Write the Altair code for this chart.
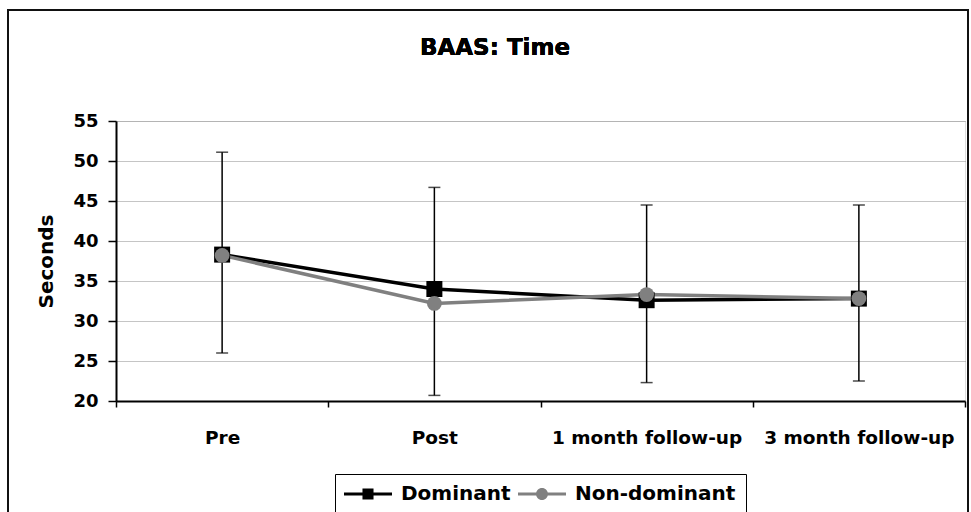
import altair as alt
import pandas as pd

categories = ["Pre", "Post", "1 month follow-up", "3 month follow-up"]
dominant = [38.3, 34.0, 32.6, 32.8]
non_dominant = [38.2, 32.2, 33.3, 32.8]
err_low = [26.0, 20.7, 22.3, 22.5]
err_high = [51.1, 46.7, 44.5, 44.5]
series_names = ["Dominant", "Non-dominant"]
series_colors = ["#000000", "#808080"]
y_ticks = [20, 25, 30, 35, 40, 45, 50, 55]
chart_title = "BAAS: Time"
y_title = "Seconds"

rows = []
for c, d, n in zip(categories, dominant, non_dominant):
    rows.append({"cat": c, "series": "Dominant", "val": d})
    rows.append({"cat": c, "series": "Non-dominant", "val": n})
df = pd.DataFrame(rows)
err = pd.DataFrame({"cat": categories, "lo": err_low, "hi": err_high})

FONT = "DejaVu Sans"

x_axis = alt.Axis(tickBand="extent", labelAngle=0, labelFontSize=18.5,
                  labelFontWeight="bold", labelFont=FONT, labelColor="black",
                  labelPadding=21, tickSize=6, tickColor="black", labelLimit=400,
                  tickWidth=1.5, domainColor="black", domainWidth=2,
                  grid=False, title=None)
y_axis = alt.Axis(values=y_ticks, labelFontSize=18, title=y_title,
                  labelFontWeight="bold", labelFont=FONT, labelColor="black",
                  titleFont=FONT, titleFontSize=20, titleFontWeight="bold",
                  titleColor="black", titlePadding=16, labelPadding=10,
                  tickSize=8, tickColor="black", tickWidth=1.5,
                  domainColor="black", domainWidth=2,
                  grid=True, gridColor="#8a8a8a", gridDash=[1, 1],
                  gridWidth=1)
y_scale = alt.Scale(domain=[20, 55], nice=False, zero=False)
x_scale = alt.Scale(domain=categories, paddingInner=0, paddingOuter=0)


def X():
    return alt.X("cat:N", sort=categories, scale=x_scale, axis=x_axis, title=None)


def Y(field):
    return alt.Y(f"{field}:Q", scale=y_scale, axis=y_axis, title=y_title)


color = alt.Color("series:N", scale=alt.Scale(domain=series_names, range=series_colors),
                  legend=None)

base = alt.Chart(df)

lines = base.mark_line(strokeWidth=3.5).encode(x=X(), y=Y("val"), color=color)

eb_rule = alt.Chart(err).mark_rule(color="black", strokeWidth=1.5).encode(
    x=X(), y=Y("lo"), y2="hi:Q")
eb_lo = alt.Chart(err).mark_tick(color="black", thickness=1.5, size=12, orient="horizontal").encode(
    x=X(), y=Y("lo"))
eb_hi = alt.Chart(err).mark_tick(color="black", thickness=1.5, size=12, orient="horizontal").encode(
    x=X(), y=Y("hi"))

pts_dom = alt.Chart(df[df.series == "Dominant"]).mark_point(
    shape="square", filled=True, size=256, opacity=1, color="black").encode(x=X(), y=Y("val"))
pts_non = alt.Chart(df[df.series == "Non-dominant"]).mark_point(
    shape="circle", filled=True, size=220, opacity=1, color="#808080").encode(x=X(), y=Y("val"))

sq_path = "M-4,-0.25H4V0.25H-4Z M-0.92,-0.92H0.92V0.92H-0.92Z"
ci_path = "M-4,-0.25H4V0.25H-4Z M1,0A1,1 0 1,1 -1,0A1,1 0 1,1 1,0Z"

leg = alt.Legend(orient="none", legendX=219, legendY=353,
                 direction="horizontal", strokeColor="black",
                 padding=10, symbolSize=144, symbolStrokeWidth=0,
                 symbolOffset=13, symbolOpacity=1, labelFontSize=20,
                 labelFontWeight="bold", labelFont=FONT,
                 labelColor="black", columnPadding=7,
                 labelOffset=23, labelLimit=400)

legend_layer = base.mark_point(filled=True, opacity=0).encode(
    x=X(), y=Y("val"),
    fill=alt.Fill("series:N", scale=alt.Scale(domain=series_names, range=series_colors),
                  title=None, legend=leg),
    shape=alt.Shape("series:N", scale=alt.Scale(domain=series_names, range=[sq_path, ci_path]),
                    title=None, legend=leg),
)

frame = alt.Chart(err).mark_rect(fill=None, stroke="#111111", strokeWidth=2).encode(
    x=alt.value(-108), x2=alt.value(852), y=alt.value(-111), y2=alt.value(430))

title_mark = alt.Chart(err).mark_text(
    text=chart_title, font=FONT, fontSize=23, fontWeight="bold", color="black",
    align="center", baseline="alphabetic").encode(x=alt.value(379), y=alt.value(-66))

chart = alt.layer(frame, title_mark, lines, eb_rule, eb_lo, eb_hi, pts_dom, pts_non,
                  legend_layer).resolve_scale(
    shape="independent", fill="independent"
).properties(
    width=849, height=280,
    autosize=alt.AutoSizeParams(type="none"),
    padding={"left": 116, "top": 121, "right": 6, "bottom": 111},
).configure_view(stroke=None).configure(background="white")

chart.save("out.html", embed_options={"renderer": "svg", "actions": False})
